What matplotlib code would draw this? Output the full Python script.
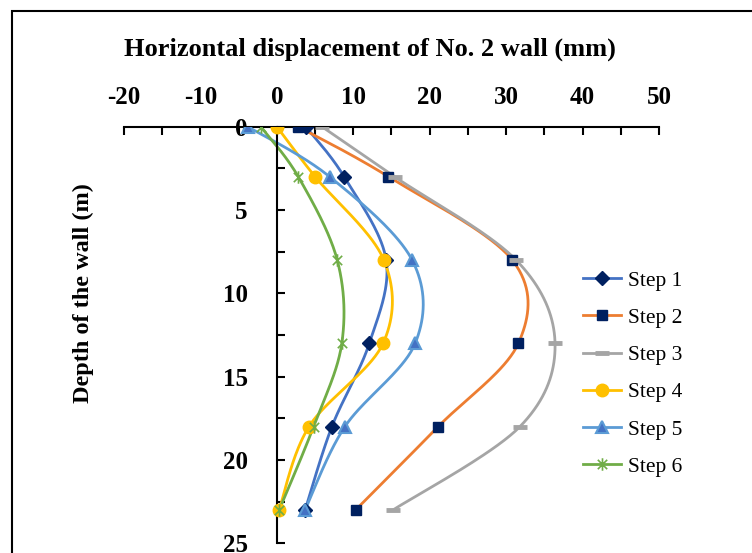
import numpy as np
import matplotlib
matplotlib.use('Agg')
import matplotlib.pyplot as plt
from matplotlib.path import Path
from matplotlib.patches import Rectangle

plt.rcParams['font.family'] = ['Liberation Serif', 'DejaVu Serif']
plt.rcParams['axes.unicode_minus'] = False

# depth of the measuring points (m)
depth = [0, 3, 8, 13, 18, 23]

# horizontal displacement (mm) for each excavation step
step1 = [3.8, 8.8, 14.3, 12.1, 7.2, 3.7]
step2 = [2.8, 14.6, 30.8, 31.6, 21.1, 10.3]
step3 = [5.9, 15.4, 31.3, 36.4, 31.8, 15.2]
step4 = [0.0, 5.0, 14.0, 13.9, 4.2, 0.3]
step5 = [-3.8, 6.9, 17.7, 18.1, 8.9, 3.7]
step6 = [-2.1, 2.8, 7.9, 8.5, 4.8, 0.3]

labels = ['Step 1', 'Step 2', 'Step 3', 'Step 4', 'Step 5', 'Step 6']
xticks = [-20, -10, 0, 10, 20, 30, 40, 50]
yticks = [0, 5, 10, 15, 20, 25]


def smooth(x, y, n=40):
    # bezier smoothing like excel's "smoothed line"
    p = np.column_stack([x, y]).astype(float)
    p = np.vstack([p[0], p, p[-1]])
    out = []
    t = np.linspace(0, 1, n)[:, None]
    for i in range(1, len(p) - 2):
        p0, p3 = p[i], p[i + 1]
        c1 = p0 + (p[i + 1] - p[i - 1]) / 6
        c2 = p3 - (p[i + 2] - p[i]) / 6
        seg = (1 - t) ** 3 * p0 + 3 * (1 - t) ** 2 * t * c1 + 3 * (1 - t) * t ** 2 * c2 + t ** 3 * p3
        out.append(seg if i == 1 else seg[1:])
    out = np.vstack(out)
    return out[:, 0], out[:, 1]


star = Path([(0, -1), (0, 1), (-0.75, -0.75), (0.75, 0.75), (-0.75, 0.75), (0.75, -0.75)],
            [Path.MOVETO, Path.LINETO, Path.MOVETO, Path.LINETO, Path.MOVETO, Path.LINETO])

styles = [
    dict(color='#4472C4', marker='D', ms=7, mfc='#002060', mec='#002060'),
    dict(color='#ED7D31', marker='s', ms=7, mfc='#002060', mec='#002060'),
    dict(color='#A5A5A5', marker='_', ms=10, mfc='#A5A5A5', mec='#A5A5A5', mew=3.5),
    dict(color='#FFC000', marker='o', ms=9, mfc='#FFC000', mec='#FFC000'),
    dict(color='#5B9BD5', marker='^', ms=9, mfc='#4472C4', mec='#5B9BD5', mew=1.5),
    dict(color='#70AD47', marker=star, ms=9, mfc='none', mec='#70AD47', mew=1.2),
]

fig = plt.figure(figsize=(7.52, 5.53), dpi=100)
ax = fig.add_axes([0.1649, 0.0175, 0.7114, 0.7534])

for xs, lab, st in zip([step1, step2, step3, step4, step5, step6], labels, styles):
    sx, sy = smooth(xs, depth)
    ax.plot(sx, sy, color=st['color'], lw=2.0, zorder=2)
    ax.plot(xs, depth, linestyle='none', marker=st['marker'], ms=st['ms'],
            mfc=st['mfc'], mec=st['mec'], mew=st.get('mew', 1), zorder=3)
    # proxy for legend
    ax.plot([], [], color=st['color'], lw=2.0, marker=st['marker'], ms=st['ms'],
            mfc=st['mfc'], mec=st['mec'], mew=st.get('mew', 1), label=lab)

ax.set_xlim(-20, 50)
ax.set_ylim(25, 0)
ax.set_xticks(xticks)
ax.set_xticks(np.arange(-20, 51, 5), minor=True)
ax.set_yticks(yticks)
ax.set_yticks(np.arange(0, 25.1, 2.5), minor=True)

ax.xaxis.tick_top()
ax.xaxis.set_label_position('top')
ax.spines['left'].set_position(('data', 0))
ax.spines['right'].set_visible(False)
ax.spines['bottom'].set_visible(False)
ax.spines['top'].set_linewidth(1.5)
ax.spines['left'].set_linewidth(1.5)

ax.tick_params(axis='x', which='both', direction='in', length=6, width=1.5, pad=13)
ax.tick_params(axis='y', which='both', direction='in', length=6, width=1.5, pad=21)
for t in ax.get_xticklabels() + ax.get_yticklabels():
    t.set_fontsize(18)
    t.set_fontweight('bold')

ax.set_xlabel('Horizontal displacement of No. 2 wall (mm)', fontsize=19, fontweight='bold')
ax.xaxis.set_label_coords(0.46, 1.17)
ax.set_ylabel('Depth of the wall (m)', fontsize=17.5, fontweight='bold')
ax.yaxis.set_label_coords(-0.057, 0.60)

ax.legend(loc='upper left', bbox_to_anchor=(0.749, 0.546), bbox_transform=fig.transFigure,
          frameon=False, fontsize=15.5, handlelength=1.8, labelspacing=0.8, handletextpad=0.3)

fig.patches.append(Rectangle((12 / 752, -0.1), 2, 0.98 + 0.1, transform=fig.transFigure,
                             fill=False, lw=1.5, edgecolor='black'))

fig.savefig('out.png', dpi=100)
